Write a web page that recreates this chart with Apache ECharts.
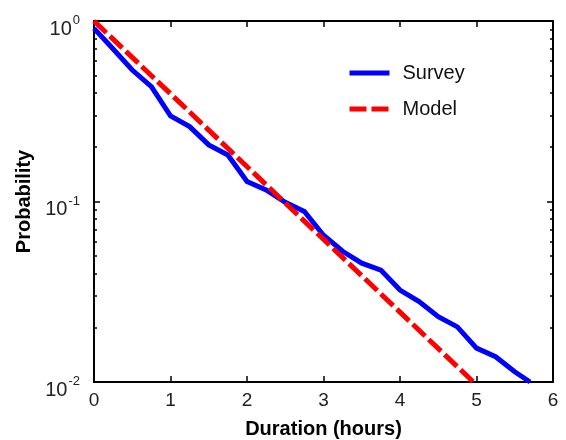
<!DOCTYPE html>
<html>
<head>
<meta charset="utf-8">
<script src="https://cdn.jsdelivr.net/npm/echarts@6/dist/echarts.min.js"></script>
<style>
  html, body { margin: 0; padding: 0; background: #fff; }
  #chart { width: 566px; height: 440px; }
</style>
</head>
<body>
<div id="chart"></div>
<script>
// Survey distribution of durations (hours) and the exponential model
const surveyHours = [0, 0.25, 0.5, 0.75, 1, 1.25, 1.5, 1.75, 2, 2.25, 2.5, 2.75, 3, 3.25, 3.5, 3.75, 4, 4.25, 4.5, 4.75, 5, 5.25, 5.5, 5.7];
const surveyProb  = [0.91, 0.70, 0.535, 0.433, 0.298, 0.26, 0.206, 0.181, 0.129, 0.116, 0.099, 0.088, 0.065, 0.053, 0.0455, 0.0417, 0.0323, 0.0279, 0.023, 0.0202, 0.0154, 0.0138, 0.0114, 0.0100];
const modelHours  = [0, 4.96];
const modelProb   = [1, 0.01];

const xTicks = [0, 1, 2, 3, 4, 5, 6];
const yMajor = [0.01, 0.1, 1];
const yMinor = [0.02, 0.03, 0.04, 0.05, 0.06, 0.07, 0.08, 0.09, 0.2, 0.3, 0.4, 0.5, 0.6, 0.7, 0.8, 0.9];

const FONT = 'Liberation Sans, Arial, sans-serif';
const grid = { left: 94, top: 21, right: 13, bottom: 58, containLabel: false, outerBoundsMode: 'none' };

function zip(xs, ys) { return xs.map((x, i) => [x, ys[i]]); }

function powLabel(v) {
  const e = Math.round(Math.log10(v));
  return '{b|10}{s|' + e + '}';
}

function yAxis(position, ticks, len, showLabel) {
  return {
    type: 'log', logBase: 10, min: 0.01, max: 1, position: position,
    axisLine: { show: true, lineStyle: { color: '#000', width: 2 } },
    axisTick: { show: true, inside: true, length: len, customValues: ticks, lineStyle: { color: '#000', width: 1.5 } },
    axisLabel: {
      show: showLabel, customValues: yMajor, margin: 14, formatter: powLabel,
      padding: [16, 0, 0, 0],
      rich: {
        b: { fontFamily: FONT, fontSize: 20, color: '#222', verticalAlign: 'bottom', lineHeight: 20 },
        s: { fontFamily: FONT, fontSize: 13, color: '#222', verticalAlign: 'bottom', lineHeight: 20, padding: [0, 0, 12, 1] }
      }
    },
    splitLine: { show: false },
    name: showLabel ? 'Probability' : '',
    nameLocation: 'middle', nameGap: 50, nameRotate: 90,
    nameTextStyle: { fontFamily: FONT, fontSize: 20, fontWeight: 'bold', color: '#000' }
  };
}

function xAxis(position, showLabel) {
  return {
    type: 'value', min: 0, max: 6, interval: 1, position: position,
    axisLine: { show: true, lineStyle: { color: '#000', width: 2 } },
    axisTick: { show: true, inside: true, length: 6, lineStyle: { color: '#000', width: 1.5 } },
    axisLabel: { show: showLabel, margin: 9, fontFamily: FONT, fontSize: 19, color: '#222',
                 customValues: xTicks },
    splitLine: { show: false },
    name: showLabel ? 'Duration (hours)' : '',
    nameLocation: 'middle', nameGap: 37,
    nameTextStyle: { fontFamily: FONT, fontSize: 20, fontWeight: 'bold', color: '#000' }
  };
}

const chart = echarts.init(document.getElementById('chart'), null, { renderer: 'canvas' });
chart.setOption({
  animation: false,
  backgroundColor: '#fff',
  grid: grid,
  xAxis: [xAxis('bottom', true), xAxis('top', false)],
  yAxis: [
    yAxis('left', yMajor, 6, true),
    yAxis('left', yMinor, 3, false),
    yAxis('right', yMajor, 6, false),
    yAxis('right', yMinor, 3, false)
  ],
  legend: {
    orient: 'vertical', left: 347, top: 63, padding: 0,
    itemWidth: 40, itemHeight: 14, itemGap: 16,
    itemStyle: { opacity: 0 },
    lineStyle: { width: 5 },
    textStyle: { fontFamily: FONT, fontSize: 20, color: '#111', padding: [0, 0, 0, 8] },
    data: ['Survey', 'Model']
  },
  series: [
    {
      name: 'Survey', type: 'line', xAxisIndex: 0, yAxisIndex: 0,
      data: zip(surveyHours, surveyProb), showSymbol: false, symbol: 'none',
      lineStyle: { color: '#0000ff', width: 5, join: 'miter' },
      itemStyle: { color: '#0000ff' }
    },
    {
      name: 'Model', type: 'line', xAxisIndex: 0, yAxisIndex: 0,
      data: zip(modelHours, modelProb), showSymbol: false, symbol: 'none',
      lineStyle: { color: '#ff0000', width: 5, type: [17, 5], cap: 'butt' },
      itemStyle: { color: '#ff0000' }
    }
  ]
});
</script>
</body>
</html>
